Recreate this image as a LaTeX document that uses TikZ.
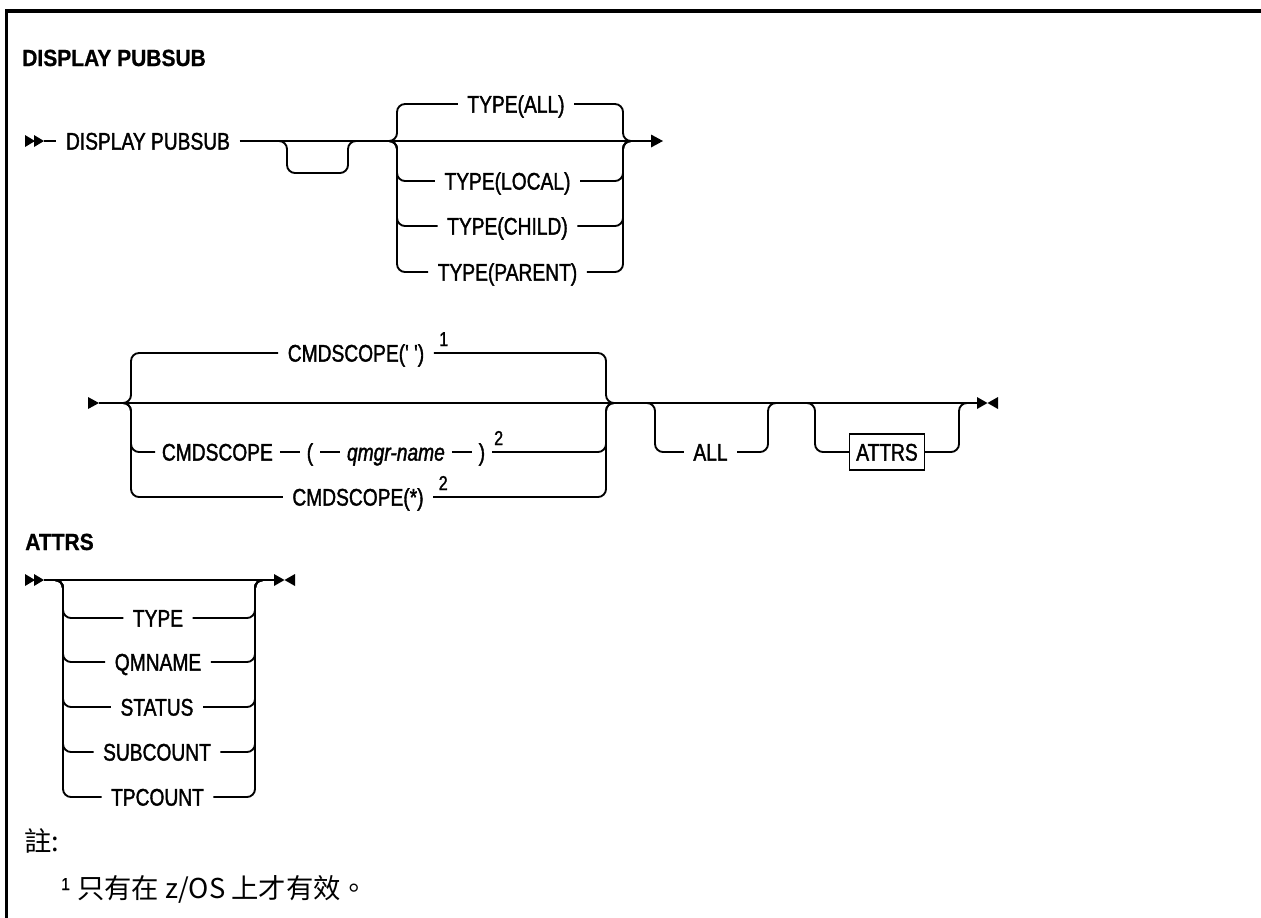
\documentclass[tikz,border=0pt]{standalone}
\usepackage{fontspec}
\usetikzlibrary{positioning,calc}
\newfontfamily\rr[FakeStretch=0.8,FakeBold=1.5]{Liberation Sans}
\newfontfamily\rrt[FakeStretch=0.9,FakeBold=0.8]{Liberation Sans}
\newfontfamily\cjk{Noto Sans CJK TC}
\tikzset{
  rail/.style={line width=1.4pt, rounded corners=6pt},
  opt/.style={font=\rr\fontsize{18pt}{20pt}\selectfont, inner xsep=7pt, inner ysep=0pt, text height=12.9pt, text depth=0pt},
  chain/.style={opt, inner xsep=5pt},
  chainit/.style={chain, font=\rr\itshape\fontsize{18pt}{20pt}\selectfont},
  boxed/.style={opt, draw, line width=1.2pt, inner xsep=5pt, minimum height=27pt},
  supnum/.style={font=\rr\fontsize{15pt}{16pt}\selectfont, inner sep=0pt, anchor=base},
  ttl/.style={font=\rrt\bfseries\fontsize{17.5pt}{19pt}\selectfont, inner sep=0pt, anchor=base west},
  note/.style={font=\cjk\fontsize{20.5pt}{22pt}\selectfont, inner sep=0pt, anchor=base west},
}
\begin{document}
\begin{tikzpicture}[x=0.75pt,y=-0.75pt]
\useasboundingbox (0,0) rectangle (1261,918);
\clip (0,0) rectangle (1261,918);
% frame
\draw[line width=2.3pt] (6.5,940) -- (6.5,11) -- (1290,11);

% ---------- title ----------
\node[ttl] (t1) at (22,66) {DISPLAY PUBSUB};

% ---------- row 1 ----------
\fill (25,135) -- (35,141) -- (25,147) -- cycle;
\fill (34,135) -- (44,141) -- (34,147) -- cycle;
\coordinate (s1) at (44,141);
\node[opt] (dp) at (148,141) {DISPLAY PUBSUB};
\draw[rail] (s1) -- (dp.west);
\coordinate (j1) at (389,141);
\coordinate (j2) at (631,141);
\coordinate (e1) at (652,141);
\draw[rail] (dp.east) -- (j1) -- (j2) -- (e1);
\coordinate (la) at (279,141);
\coordinate (lb) at (356,141);
\draw[rail] (la) -- (287,141) -- (287,173) -- (348,173) -- (348,141) -- (lb);
\fill (651,134.5) -- (663,141) -- (651,147.5) -- cycle;

\node[opt] (tall) at (516,104) {TYPE(ALL)};
\node[opt] (tloc) at (507.5,181) {TYPE(LOCAL)};
\node[opt] (tchild) at (507.5,226) {TYPE(CHILD)};
\node[opt] (tpar) at (507.5,272) {TYPE(PARENT)};
\coordinate (xl1) at (397,0);
\coordinate (xr1) at (623,0);
\foreach \n in {tall,tloc,tchild,tpar}{
  \draw[rail] (j1) -| (xl1 |- \n.west) -- (\n.west);
  \draw[rail] (\n.east) -- (xr1 |- \n.east) |- (j2);
}

% ---------- row 2 ----------
\fill (88,397) -- (99,403) -- (88,409) -- cycle;
\coordinate (s2) at (99,403);
\coordinate (j3) at (123,403);
\coordinate (j4) at (614,403);
\coordinate (e2) at (977,403);
\draw[rail] (s2) -- (j3) -- (j4) -- (e2);
\coordinate (xl2) at (131,0);
\coordinate (xr2) at (606,0);
\node[opt] (c1) at (356,353) {CMDSCOPE(' ')};
\node[chain, anchor=west] (c2) at (155,452) {CMDSCOPE};
\node[chain, right=15pt of c2] (lp) {(};
\node[chainit, right=15pt of lp] (qn) {qmgr-name};
\node[chain, right=15pt of qn] (rp) {)};
\node[opt] (c3) at (358,497) {CMDSCOPE(*)};
\foreach \n in {c1,c2,c3}{
  \draw[rail] (j3) -| (xl2 |- \n.west) -- (\n.west);
}
\foreach \n in {c1,rp,c3}{
  \draw[rail] (\n.east) -- (xr2 |- \n.east) |- (j4);
}
\draw[rail] (c2.east) -- (lp.west);
\draw[rail] (lp.east) -- (qn.west);
\draw[rail] (qn.east) -- (rp.west);
\node[supnum] (n1) at ([xshift=7.5pt,yshift=5.25pt]c1.east) {1};
\node[supnum] (n2) at ([xshift=5pt,yshift=5.25pt]rp.east) {2};
\node[supnum] (n3) at ([xshift=7.5pt,yshift=5.25pt]c3.east) {2};

\node[opt] (all) at (710.5,452) {ALL};
\coordinate (la2) at (647,403);
\coordinate (lb2) at (776,403);
\draw[rail] (la2) -- (655,403) -- (655,452) -- (all.west);
\draw[rail] (all.east) -- (768,452) -- (768,403) -- (lb2);

\node[boxed] (ab) at (887,452) {ATTRS};
\coordinate (la3) at (807,403);
\coordinate (lb3) at (967,403);
\draw[rail] (la3) -- (815,403) -- (815,452) -- (ab.west);
\draw[rail] (ab.east) -- (959,452) -- (959,403) -- (lb3);

\fill (977,397) -- (987.5,403) -- (977,409) -- cycle;
\fill (998,397) -- (987.5,403) -- (998,409) -- cycle;

% ---------- ATTRS ----------
\node[ttl] (t2) at (25,550) {ATTRS};
\fill (25,574) -- (35,580) -- (25,586) -- cycle;
\fill (34,574) -- (44,580) -- (34,586) -- cycle;
\coordinate (s3) at (44,580);
\coordinate (j5) at (55,580);
\coordinate (j6) at (263,580);
\coordinate (e3) at (274,580);
\draw[rail] (s3) -- (j5) -- (j6) -- (e3);
\coordinate (xl3) at (63,0);
\coordinate (xr3) at (255,0);
\node[opt] (a1) at (158,618) {TYPE};
\node[opt] (a2) at (158,662) {QMNAME};
\node[opt] (a3) at (157,707) {STATUS};
\node[opt] (a4) at (157,752) {SUBCOUNT};
\node[opt] (a5) at (157.5,797) {TPCOUNT};
\foreach \n in {a1,a2,a3,a4,a5}{
  \draw[rail] (j5) -| (xl3 |- \n.west) -- (\n.west);
  \draw[rail] (\n.east) -- (xr3 |- \n.east) |- (j6);
}
\fill (274,574) -- (284.5,580) -- (274,586) -- cycle;
\fill (295,574) -- (284.5,580) -- (295,586) -- cycle;

% ---------- notes ----------
\node[note] (nh) at (24,851) {註:};
\node[font=\rrt\fontsize{13pt}{14pt}\selectfont, inner sep=0pt, anchor=base west] (fn1) at (61,890) {1};
\node[note] (ft) at (77,898) {只有在 z/OS 上才有效。};
\end{tikzpicture}
\end{document}
